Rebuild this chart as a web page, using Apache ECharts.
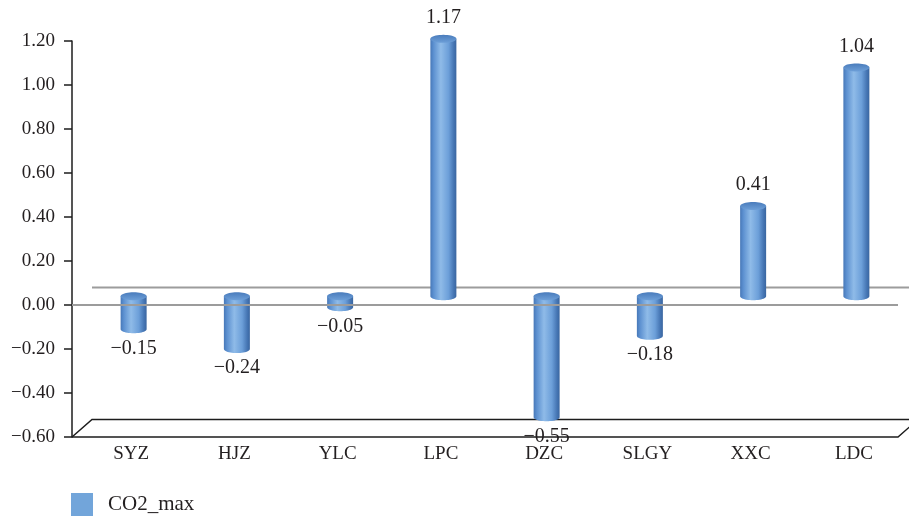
<!DOCTYPE html>
<html>
<head>
<meta charset="utf-8">
<script src="https://cdn.jsdelivr.net/npm/echarts@6/dist/echarts.min.js"></script>
<style>
  html, body { margin: 0; padding: 0; background: #ffffff; }
  #chart { width: 909px; height: 522px; }
</style>
</head>
<body>
<div id="chart"></div>
<script>
// Sampling sites and their CO2_max values
const categories = ['SYZ', 'HJZ', 'YLC', 'LPC', 'DZC', 'SLGY', 'XXC', 'LDC'];
const co2Max = [-0.15, -0.24, -0.05, 1.17, -0.55, -0.18, 0.41, 1.04];
const seriesName = 'CO2_max';

// Value axis range
const yMin = -0.6;
const yMax = 1.2;
const yStep = 0.2;

// Pseudo-3D depth of the plot box (pixels)
const DEPTH_X = 20;
const DEPTH_Y = 17.5;

const FONT = '"Liberation Serif", "Times New Roman", serif';
const TEXT_COLOR = '#231f20';

function fmt(v) {
  return v.toFixed(2).replace('-', '\u2212');
}

const chart = echarts.init(document.getElementById('chart'), null, { renderer: 'canvas' });

// Floor and back-wall zero line (drawn behind the cylinders)
function renderBack(params, api) {
  const cs = params.coordSys;
  const x0 = cs.x - DEPTH_X / 2;
  const x1 = cs.x + cs.width - DEPTH_X / 2;
  const yFloor = cs.y + cs.height;
  const yZero = api.coord([0, 0])[1];
  return {
    type: 'group',
    children: [
      {
        type: 'line',
        shape: { x1: x0 + DEPTH_X, y1: yZero - DEPTH_Y, x2: x1 + DEPTH_X, y2: yZero - DEPTH_Y },
        style: { stroke: '#9c9c9c', lineWidth: 2 }
      },
      {
        type: 'polyline',
        shape: { points: [[x0, yFloor], [x1, yFloor], [x1 + DEPTH_X, yFloor - DEPTH_Y]] },
        style: { stroke: '#1c1c1c', lineWidth: 1.5, fill: null }
      },
      {
        type: 'polyline',
        shape: { points: [[x0, yFloor], [x0 + DEPTH_X, yFloor - DEPTH_Y], [x1 + DEPTH_X + 10, yFloor - DEPTH_Y]] },
        style: { stroke: '#1c1c1c', lineWidth: 1.5, fill: null }
      }
    ]
  };
}

// Front zero line (crosses over the cylinders)
function renderFront(params, api) {
  const cs = params.coordSys;
  const x0 = cs.x - DEPTH_X / 2;
  const x1 = cs.x + cs.width - DEPTH_X / 2;
  const yZero = api.coord([0, 0])[1];
  return {
    type: 'line',
    shape: { x1: x0, y1: yZero, x2: x1, y2: yZero },
    style: { stroke: '#9c9c9c', lineWidth: 2 }
  };
}

function ellipsePoints(cx, cy, rx, ry, t0, t1, n) {
  const pts = [];
  for (let i = 0; i <= n; i++) {
    const t = t0 + (t1 - t0) * i / n;
    pts.push([cx + rx * Math.cos(t), cy + ry * Math.sin(t)]);
  }
  return pts;
}

// Cylinder for each value, placed at mid depth
function renderCylinder(params, api) {
  const idx = api.value(0);
  const v = api.value(1);
  const pTop = api.coord([idx, Math.max(v, 0)]);
  const pBot = api.coord([idx, Math.min(v, 0)]);
  const cx = pTop[0];
  const yt = pTop[1] - DEPTH_Y / 2;
  const yb = pBot[1] - DEPTH_Y / 2;
  const rx = 13;
  const ry = 4;

  // side: straight walls plus the lower half of the base ellipse
  const base = ellipsePoints(cx, yb, rx, ry, Math.PI, 0, 24);
  const bodyPts = [[cx - rx, yt]].concat(base, [[cx + rx, yt]]);
  const topPts = ellipsePoints(cx, yt, rx, ry, 0, Math.PI * 2, 40);

  const labelY = v >= 0 ? yt - 21 : yb + 19;

  return {
    type: 'group',
    children: [
      {
        type: 'polygon',
        shape: { points: bodyPts },
        style: {
          fill: {
            type: 'linear', x: 0, y: 0, x2: 1, y2: 0,
            colorStops: [
              { offset: 0, color: '#4778b8' },
              { offset: 0.12, color: '#5c90d0' },
              { offset: 0.4, color: '#8fbbe8' },
              { offset: 0.7, color: '#6c9fd9' },
              { offset: 0.9, color: '#4575b3' },
              { offset: 1, color: '#3a66a0' }
            ]
          }
        }
      },
      {
        type: 'polygon',
        shape: { points: topPts },
        style: {
          fill: {
            type: 'linear', x: 0, y: 0, x2: 0, y2: 1,
            colorStops: [
              { offset: 0, color: '#4a7cbc' },
              { offset: 1, color: '#6d9fd8' }
            ]
          }
        }
      },
      {
        type: 'text',
        x: cx,
        y: labelY,
        style: {
          text: fmt(v),
          fill: TEXT_COLOR,
          font: '20px ' + FONT,
          align: 'center',
          verticalAlign: 'middle'
        }
      }
    ]
  };
}

const option = {
  animation: false,
  backgroundColor: '#ffffff',
  textStyle: { fontFamily: FONT },
  grid: { left: 82, right: 1, top: 41, bottom: 85 },
  legend: {
    left: 71,
    top: 493,
    padding: 0,
    itemWidth: 22,
    itemHeight: 23,
    data: [{ name: seriesName, icon: 'rect', itemStyle: { color: '#72a5da' } }],
    textStyle: { fontFamily: FONT, fontSize: 21, color: TEXT_COLOR, padding: [0, 0, 0, 10] }
  },
  xAxis: {
    type: 'category',
    data: categories,
    axisLine: { show: false },
    axisTick: { show: false },
    axisLabel: {
      margin: 8,
      fontFamily: FONT,
      fontSize: 19,
      color: TEXT_COLOR,
      padding: [0, 5, 0, 0]
    },
    splitLine: { show: false }
  },
  yAxis: {
    type: 'value',
    min: yMin,
    max: yMax,
    interval: yStep,
    offset: DEPTH_X / 2,
    axisLine: { show: true, lineStyle: { color: '#1c1c1c', width: 1.5 } },
    axisTick: { show: true, length: 8, lineStyle: { color: '#1c1c1c', width: 1.5 } },
    axisLabel: {
      margin: 17,
      fontFamily: FONT,
      fontSize: 19,
      color: TEXT_COLOR,
      formatter: fmt
    },
    splitLine: { show: false }
  },
  series: [
    {
      type: 'custom',
      name: 'back',
      z: 1,
      silent: true,
      clip: false,
      renderItem: renderBack,
      data: [[0, 0]]
    },
    {
      type: 'custom',
      name: seriesName,
      z: 2,
      color: '#72a5da',
      clip: false,
      renderItem: renderCylinder,
      encode: { x: 0, y: 1 },
      data: co2Max.map((v, i) => [i, v])
    },
    {
      type: 'custom',
      name: 'front',
      z: 3,
      silent: true,
      clip: false,
      renderItem: renderFront,
      data: [[0, 0]]
    }
  ]
};

chart.setOption(option);
</script>
</body>
</html>
